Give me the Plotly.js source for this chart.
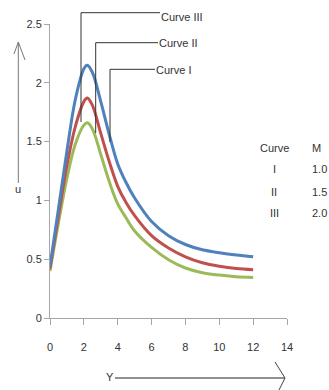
<!DOCTYPE html>
<html>
<head>
<meta charset="utf-8">
<script src="https://cdn.plot.ly/plotly-3.0.1.min.js"></script>
<style>html,body{margin:0;padding:0;background:#fff;}#chart{width:329px;height:390px;}</style>
</head>
<body>
<div id="chart"></div>
<script>
// Data
const xValues = [0, 0.5, 1, 1.5, 2, 2.2, 2.5, 3, 3.5, 4, 4.5, 5, 6, 7, 8, 9, 10, 11, 12];
const curveIII = [0.44, 0.93, 1.42, 1.86, 2.12, 2.15, 2.09, 1.84, 1.56, 1.31, 1.15, 1.02, 0.82, 0.70, 0.625, 0.58, 0.555, 0.535, 0.52];
const curveII  = [0.42, 0.87, 1.30, 1.63, 1.84, 1.87, 1.81, 1.57, 1.33, 1.12, 0.98, 0.87, 0.70, 0.595, 0.52, 0.47, 0.44, 0.42, 0.41];
const curveI   = [0.40, 0.81, 1.19, 1.48, 1.64, 1.66, 1.61, 1.39, 1.16, 0.97, 0.85, 0.74, 0.60, 0.495, 0.425, 0.385, 0.365, 0.35, 0.345];
const xTicks = [0, 2, 4, 6, 8, 10, 12, 14];
const yTicks = [0, 0.5, 1, 1.5, 2, 2.5];
const tableHeader = ["Curve", "M"];
const tableCurves = ["I", "II", "III"];
const tableM = ["1.0", "1.5", "2.0"];
const curveLabels = ["Curve III", "Curve II", "Curve I"];

const FONT = "'Liberation Sans', Arial, sans-serif";
const W = 329, H = 390, L = 50, R = 42, T = 24, B = 72;
const pw = W - L - R, ph = H - T - B;
// pixel -> paper helpers for decorations
const px = v => (v - L) / pw;
const py = v => (H - B - v) / ph;

const mk = (y, color) => ({
  x: xValues, y: y, type: 'scatter', mode: 'lines',
  line: {color: color, width: 3, shape: 'spline', smoothing: 1},
  hoverinfo: 'skip', showlegend: false
});

const data = [
  mk(curveI, '#9bbb59'),
  mk(curveII, '#c0504d'),
  mk(curveIII, '#4f81bd')
];

const seg = (x0, y0, x1, y1, color, width) => ({
  type: 'line', xref: 'paper', yref: 'paper',
  x0: px(x0), y0: py(y0), x1: px(x1), y1: py(y1),
  line: {color: color || '#333', width: width || 1}
});

const shapes = [
  // leader lines for the curve labels
  seg(81, 12.7, 81, 122), seg(81, 12.7, 160, 12.7),
  seg(95.7, 42.7, 95.7, 133), seg(95.7, 42.7, 158, 42.7),
  seg(110, 69.3, 110, 142), seg(110, 69.3, 155, 69.3),
  // y-direction arrow
  seg(18.3, 42, 18.3, 183, '#777', 1),
  seg(18.3, 42, 14, 54, '#777', 1),
  seg(18.3, 42, 25, 60, '#777', 1),
  // x-direction arrow
  seg(115, 378, 285, 378, '#222', 1),
  seg(275, 362, 285, 378, '#444', 1),
  seg(285, 378, 278, 392, '#444', 1)
];

const txt = (text, x, y, anchor, size) => ({
  text: text, xref: 'paper', yref: 'paper', x: px(x), y: py(y),
  xanchor: anchor || 'left', yanchor: 'middle', showarrow: false,
  font: {family: FONT, size: size || 11, color: '#333'}
});

const annotations = [
  txt(curveLabels[0], 159, 17),
  txt(curveLabels[1], 157, 43),
  txt(curveLabels[2], 154, 70),
  txt(tableHeader[0], 274, 148, 'center'),
  txt(tableHeader[1], 316, 148, 'center'),
  txt(tableCurves[0], 274, 169, 'center'),
  txt(tableCurves[1], 274, 192, 'center'),
  txt(tableCurves[2], 274, 213, 'center'),
  txt(tableM[0], 319, 169, 'center'),
  txt(tableM[1], 319, 192, 'center'),
  txt(tableM[2], 319, 213, 'center'),
  txt('u', 18.3, 189, 'center'),
  txt('Y', 116, 377, 'right')
];

const layout = {
  width: W, height: H,
  margin: {l: L, r: R, t: T, b: B, pad: 0},
  paper_bgcolor: '#fff', plot_bgcolor: '#fff',
  xaxis: {
    range: [0, 14], tickvals: xTicks, ticktext: xTicks.map(String),
    showgrid: false, zeroline: false, showline: true, linecolor: '#a6a6a6', linewidth: 1,
    ticks: 'outside', ticklen: 6, tickcolor: '#a6a6a6',
    ticklabelstandoff: 13,
    tickfont: {family: FONT, size: 11, color: '#333'}, fixedrange: true
  },
  yaxis: {
    range: [0, 2.5], tickvals: yTicks, ticktext: yTicks.map(String),
    showgrid: false, zeroline: false, showline: true, linecolor: '#a6a6a6', linewidth: 1,
    ticks: 'outside', ticklen: 5, tickcolor: '#a6a6a6',
    tickfont: {family: FONT, size: 11, color: '#333'}, fixedrange: true
  },
  shapes: shapes,
  annotations: annotations,
  showlegend: false
};

Plotly.newPlot('chart', data, layout, {staticPlot: true, displayModeBar: false});
</script>
</body>
</html>
